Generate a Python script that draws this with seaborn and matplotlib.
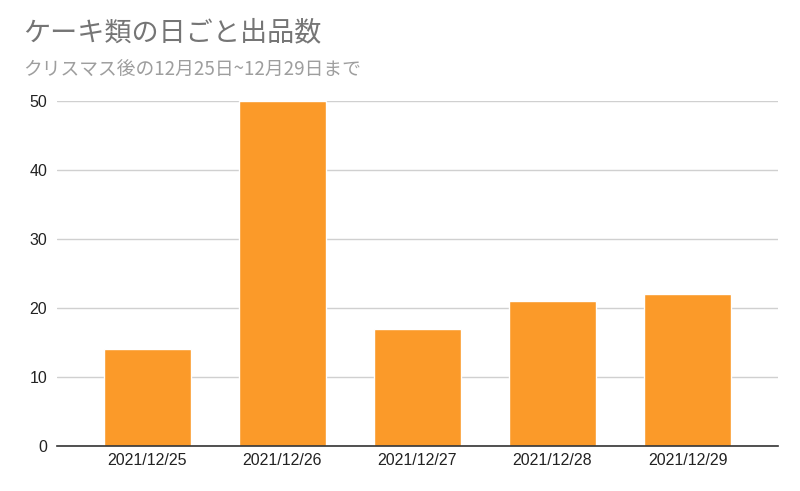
import matplotlib
matplotlib.use('Agg')
import matplotlib.pyplot as plt
import seaborn as sns
import pandas as pd

dates = ['2021/12/25', '2021/12/26', '2021/12/27', '2021/12/28', '2021/12/29']
counts = [14, 50, 17, 21, 22]
y_ticks = [0, 10, 20, 30, 40, 50]

title = 'ケーキ類の日ごと出品数'
subtitle = 'クリスマス後の12月25日~12月29日まで'

sns.set_style('white')
plt.rcParams['font.family'] = ['Liberation Sans', 'Noto Sans CJK JP', 'DejaVu Sans']

df = pd.DataFrame({'date': dates, 'count': counts})

fig = plt.figure(figsize=(8, 4.91), dpi=100)
ax = fig.add_axes([57 / 800, 1 - 446 / 491, (778 - 57) / 800, (446 - 101) / 491])

sns.barplot(data=df, x='date', y='count', color='#fb9a29', saturation=1,
            width=0.64, ax=ax, zorder=3)

ax.set_xlim(-0.67, 4.67)
ax.set_ylim(0, 50)
ax.set_yticks(y_ticks)
ax.yaxis.grid(True, color='#d0d0d0', linewidth=1, zorder=0)
ax.set_axisbelow(True)
for s in ['top', 'right', 'left']:
    ax.spines[s].set_visible(False)
ax.spines['bottom'].set_color('#333333')
ax.spines['bottom'].set_linewidth(1.2)
ax.spines['bottom'].set_zorder(4)
ax.tick_params(axis='both', length=0, labelsize=11.5, colors='#222222')
ax.tick_params(axis='y', pad=7)
ax.tick_params(axis='x', pad=5)
ax.set_xlabel('')
ax.set_ylabel('')

fig.text(23 / 800, 1 - 33 / 491, title, fontsize=19.5, color='#757575',
         family=['Noto Sans CJK JP', 'DejaVu Sans'], va='center')
fig.text(23 / 800, 1 - 70 / 491, subtitle, fontsize=13.5, color='#9e9e9e',
         family=['Noto Sans CJK JP', 'DejaVu Sans'], va='center')

fig.savefig('out.png', dpi=100)
